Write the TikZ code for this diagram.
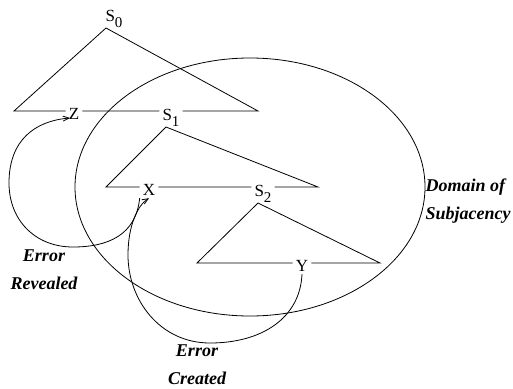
\documentclass[tikz,border=0pt]{standalone}
\usepackage{fontspec}
\setmainfont{Liberation Serif}
\usetikzlibrary{arrows.meta,shapes.geometric}
\tikzset{
  lbl/.style={inner sep=3pt,text height=16pt,text depth=0pt,font=\fontsize{17}{17}\selectfont},
  slbl/.style={lbl,text height=19pt},
  note/.style={font=\fontsize{18}{28}\selectfont\bfseries\itshape},
  tree/.style={line width=0.8pt},
  dom/.style={draw,ellipse,line width=0.8pt,inner sep=0pt,minimum width=350pt,minimum height=258pt},
  err/.style={-{Straight Barb[length=6pt,width=5pt]},line width=0.8pt}
}
\newcommand{\catsub}[2]{#1\raisebox{-6pt}{\fontsize{15}{15}\selectfont #2}}

\begin{document}
\begin{tikzpicture}[x=1pt,y=-1pt]
  \useasboundingbox (0,0) rectangle (513,388);
  % top tree S0
  \node[slbl] (s0) at (114,12) {\catsub{S}{0}};
  \coordinate (a0) at (106,28);
  \coordinate (l0) at (14,111);
  \coordinate (r0) at (258,111);
  \node[lbl] (z) at (74,111) {Z};
  \node[slbl] (s1) at (171,111) {\catsub{S}{1}};
  \draw[tree] (z) -- (l0) -- (a0) -- (r0) -- (s1) -- (z);
  % middle tree S1
  \coordinate (a1) at (166,127);
  \coordinate (l1) at (106,187);
  \coordinate (r1) at (318,187);
  \node[lbl] (x) at (149,187) {X};
  \node[slbl] (s2) at (263,187) {\catsub{S}{2}};
  \draw[tree] (x) -- (l1) -- (a1) -- (r1) -- (s2) -- (x);
  % bottom tree S2
  \coordinate (a2) at (258,203);
  \coordinate (l2) at (197,263);
  \coordinate (r2) at (380,263);
  \node[lbl] (y) at (302,263) {Y};
  \draw[tree] (y) -- (l2) -- (a2) -- (r2) -- (y);
  % domain of subjacency
  \node[dom] (sub) at (250,187) {};
  \node[note,align=left] (subt) at (468,201) {Domain of\\Subjacency};
  % error arcs
  \draw[err] (x.south west) .. controls (136,235) and (108,247) .. (73,247)
    .. controls (35,247) and (9,220) .. (9,183)
    .. controls (9,140) and (35,121) .. ([xshift=-4pt,yshift=-7pt]z.center);
  \draw[err] (y.south) .. controls (300,318) and (262,343) .. (210,343)
    .. controls (160,343) and (128,300) .. (128,255)
    .. controls (128,225) and (138,205) .. (x.south);
  \node[note,align=center] (rev) at (44,270) {Error\\Revealed};
  \node[note,align=center] (cre) at (197,365) {Error\\Created};
\end{tikzpicture}
\end{document}
